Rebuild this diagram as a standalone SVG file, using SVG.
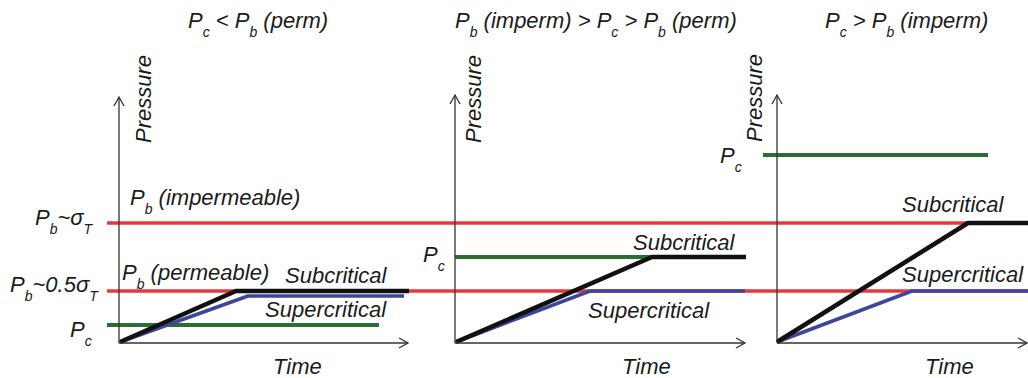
<svg xmlns="http://www.w3.org/2000/svg" width="1028" height="378" viewBox="0 0 1028 378">
<defs>
<marker id="arr" markerUnits="userSpaceOnUse" markerWidth="14" markerHeight="14" refX="10" refY="6" orient="auto" viewBox="0 0 14 12">
<path d="M1,1 L10,6 L1,11" fill="none" stroke="#333" stroke-width="1.3"/>
</marker>
</defs>
<style>
text{font-family:"Liberation Sans",Arial,sans-serif;font-style:italic;font-size:22px;fill:#1a1a1a}
.sub{font-size:14px}
.ax{fill:none;stroke:#333;stroke-width:1.3;marker-end:url(#arr)}
.red{stroke:#e8383d;stroke-width:3.5;fill:none}
.grn{stroke:#2b6d34;stroke-width:4;fill:none}
.blu{stroke:#3d469a;stroke-width:3.5;fill:none;stroke-linejoin:round}
.blk{stroke:#111;stroke-width:4.5;fill:none;stroke-linejoin:round}
</style>
<rect width="1028" height="378" fill="#fff"/>

<g id="connectors">
<!-- red reference lines -->
<line class="red" x1="107" y1="223" x2="1028" y2="223"/>
<line class="red" x1="107" y1="291" x2="1028" y2="291"/>
<!-- panel 1 -->
<line class="grn" x1="107" y1="325" x2="379" y2="325"/>
<polyline class="blu" points="120,342 248,296 404,296"/>
<polyline class="blk" points="120,342 236,291 409,291"/>
<!-- panel 2 -->
<line class="grn" x1="455" y1="257" x2="652" y2="257"/>
<polyline class="blu" points="456,342 590,291 745,291"/>
<polyline class="blk" points="456,342 652,257 746,257"/>
<!-- panel 3 -->
<line class="grn" x1="763" y1="155" x2="988" y2="155"/>
<polyline class="blu" points="777,342 912,291 1028,291"/>
<polyline class="blk" points="777,342 968,223 1028,223"/>
<!-- axes -->
<path class="ax" d="M119,343 L119,97"/>
<path class="ax" d="M119,343 L408,343"/>
<path class="ax" d="M455,343 L455,95"/>
<path class="ax" d="M455,343 L745,343"/>
<path class="ax" d="M777,343 L777,95"/>
<path class="ax" d="M777,343 L1027,343"/>
</g>

<g id="panel1">
<text x="188" y="28">P<tspan class="sub" dy="9">c</tspan><tspan dy="-9"> &lt; P</tspan><tspan class="sub" dy="9">b</tspan><tspan dy="-9"> (perm)</tspan></text>
<text transform="translate(151,143) rotate(-90)">Pressure</text>
<text x="130" y="205">P<tspan class="sub" dy="9">b</tspan><tspan dy="-9"> (impermeable)</tspan></text>
<text x="122" y="280">P<tspan class="sub" dy="9">b</tspan><tspan dy="-9"> (permeable)</tspan></text>
<text x="285" y="283">Subcritical</text>
<text x="265" y="317">Supercritical</text>
<text x="273" y="374">Time</text>
</g>

<g id="left-labels">
<text x="35" y="225">P<tspan class="sub" dy="9">b</tspan><tspan dy="-9">~σ</tspan><tspan class="sub" dy="9">T</tspan></text>
<text x="10" y="292">P<tspan class="sub" dy="9">b</tspan><tspan dy="-9">~0.5σ</tspan><tspan class="sub" dy="9">T</tspan></text>
<text x="70" y="337">P<tspan class="sub" dy="9">c</tspan></text>
</g>

<g id="panel2">
<text x="455" y="28">P<tspan class="sub" dy="9">b</tspan><tspan dy="-9"> (imperm) &gt; P</tspan><tspan class="sub" dy="9">c</tspan><tspan dy="-9"> &gt; P</tspan><tspan class="sub" dy="9">b</tspan><tspan dy="-9"> (perm)</tspan></text>
<text transform="translate(481,143) rotate(-90)">Pressure</text>
<text x="423" y="262">P<tspan class="sub" dy="9">c</tspan></text>
<text x="633" y="250">Subcritical</text>
<text x="588" y="318">Supercritical</text>
<text x="622" y="374">Time</text>
</g>

<g id="panel3">
<text x="825" y="28">P<tspan class="sub" dy="9">c</tspan><tspan dy="-9"> &gt; P</tspan><tspan class="sub" dy="9">b</tspan><tspan dy="-9"> (imperm)</tspan></text>
<text transform="translate(762,142) rotate(-90)">Pressure</text>
<text x="720" y="163">P<tspan class="sub" dy="9">c</tspan></text>
<text x="902" y="212">Subcritical</text>
<text x="902" y="282">Supercritical</text>
<text x="925" y="374">Time</text>
</g>
</svg>
